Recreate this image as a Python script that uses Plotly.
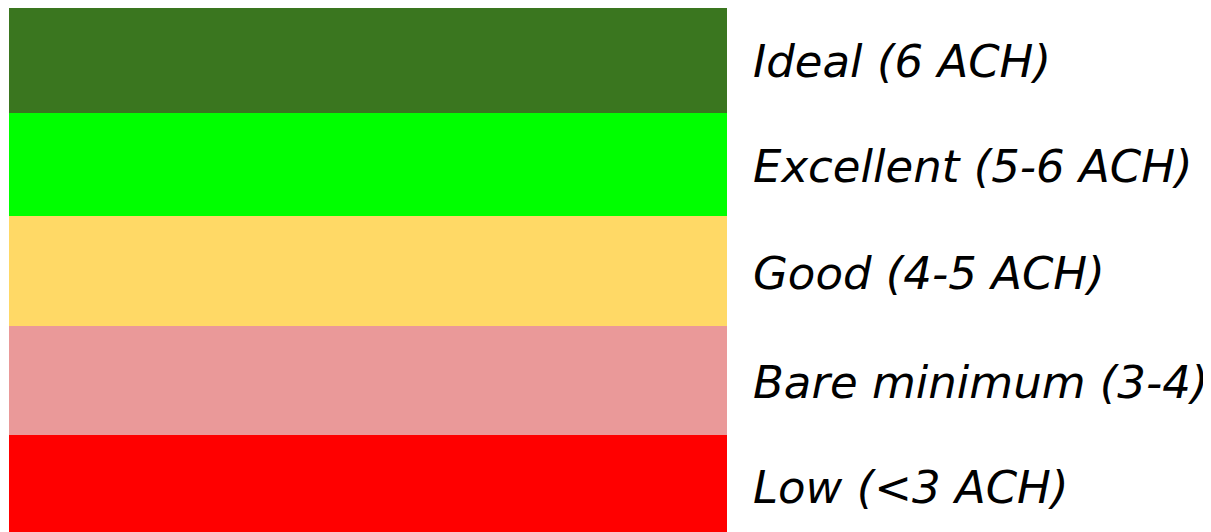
import plotly.graph_objects as go

labels = ["Ideal (6 ACH)", "Excellent (5-6 ACH)", "Good (4-5 ACH)", "Bare minimum (3-4)", "Low (<3 ACH)"]
colors = ["#3a761f", "#00ff00", "#ffd966", "#ea9999", "#ff0000"]
band_heights = [108, 103, 110, 109, 100]

W, H = 1211, 532
off = 8  # page offset of the plot div
top = 5 - off
bar_left, bar_right = 9 - off, 727 - off

fig = go.Figure()
base = top
for lab, col, h in zip(labels, colors, band_heights):
    fig.add_trace(go.Bar(
        x=[(bar_left + bar_right) / 2], y=[h], base=[base], width=[bar_right - bar_left],
        marker=dict(color=col, line=dict(width=0)), name=lab, showlegend=False,
        hoverinfo="skip",
    ))
    fig.add_annotation(
        x=751 - off, y=base + h / 2 + 2, text=lab, showarrow=False, xanchor="left", yanchor="middle",
        font=dict(family="DejaVu Sans", size=45, color="#000000", style="italic", weight=300),
    )
    base += h

fig.update_layout(
    width=W, height=H, margin=dict(l=0, r=0, t=0, b=0),
    paper_bgcolor="white", plot_bgcolor="white", barmode="overlay",
    xaxis=dict(range=[0, W], visible=False, fixedrange=True),
    yaxis=dict(range=[H, 0], visible=False, fixedrange=True),
)
fig.write_html("out.html")
